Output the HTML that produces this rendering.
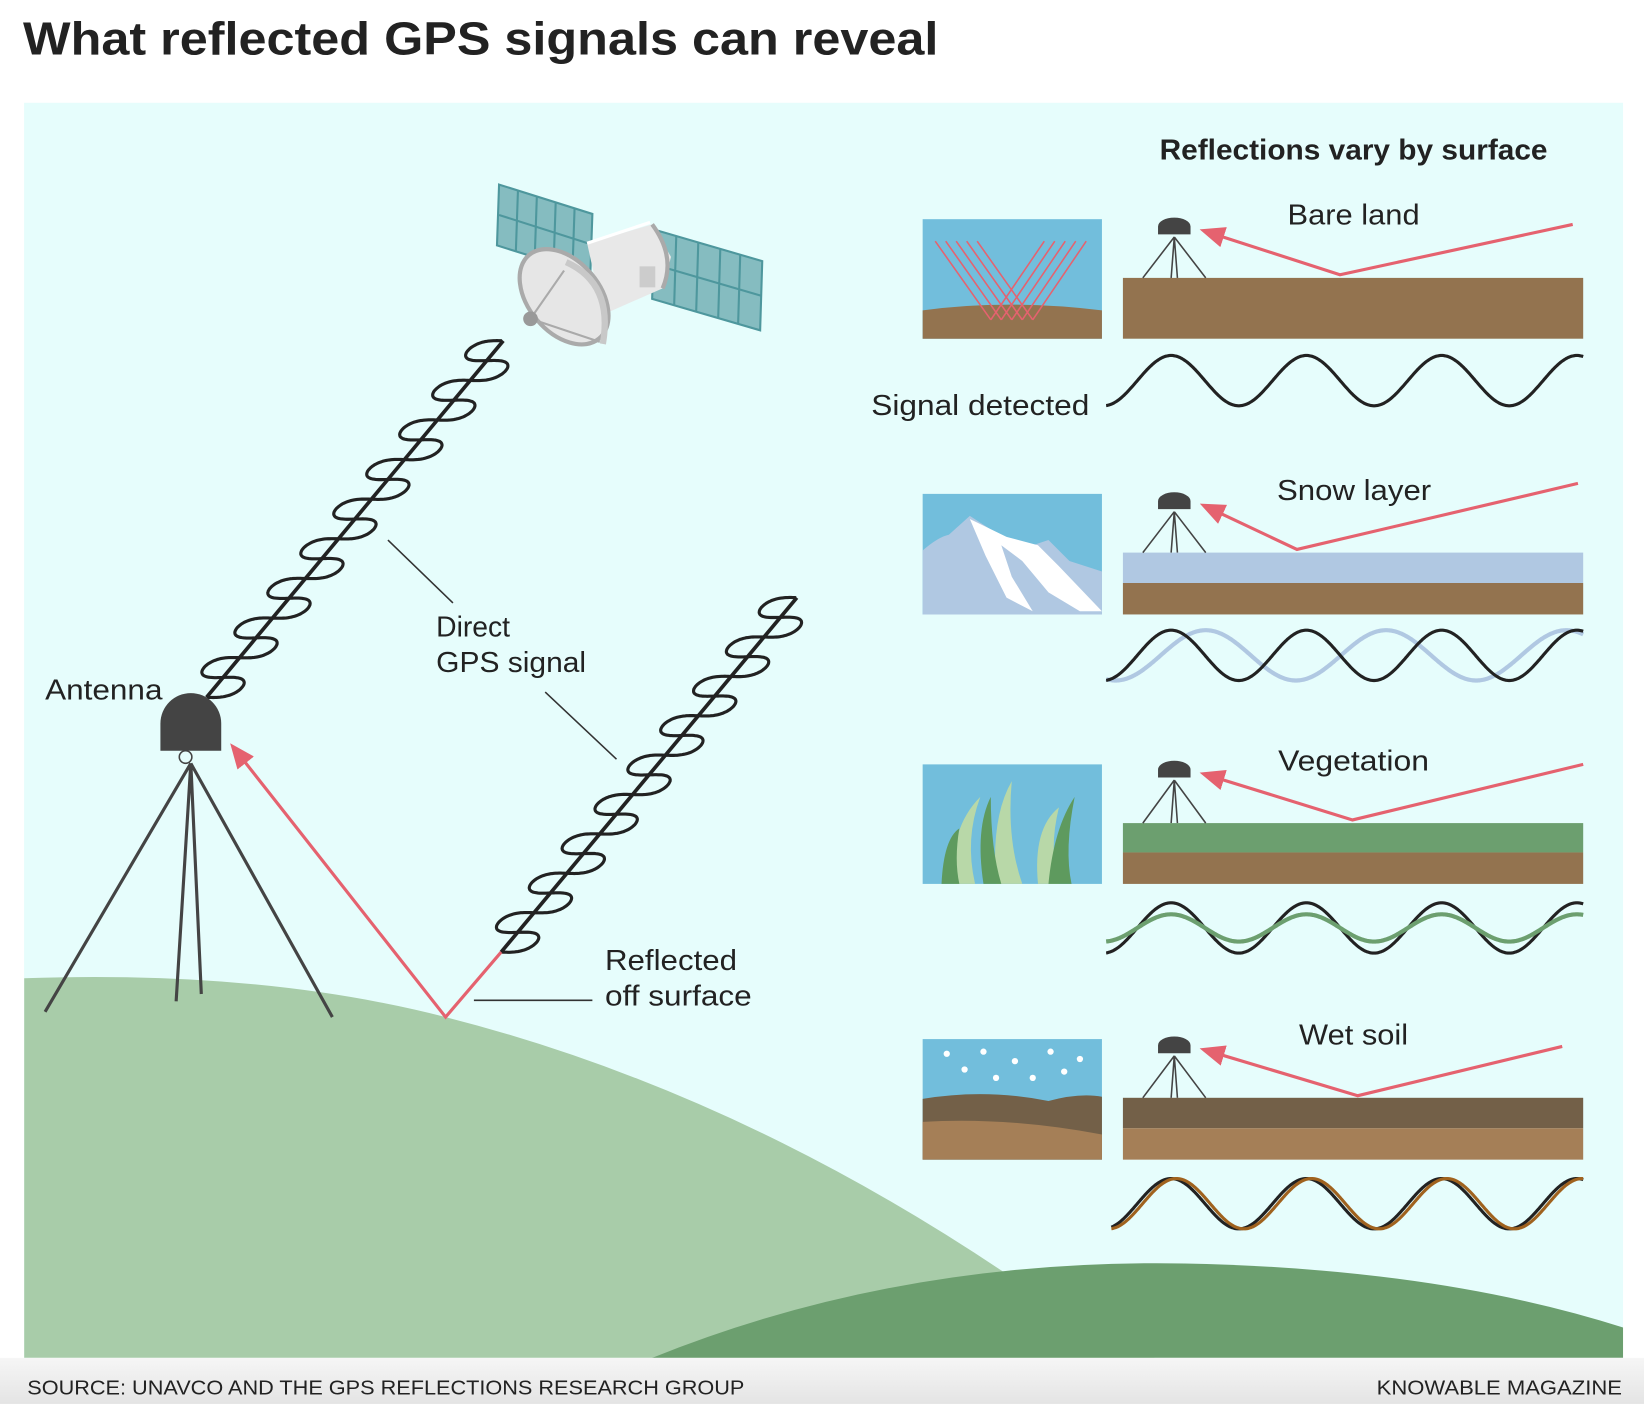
<!DOCTYPE html>
<html><head><meta charset="utf-8"><style>
html,body{margin:0;padding:0;background:#fff;}
svg{display:block;font-family:"Liberation Sans",sans-serif;}
</style></head><body>
<svg id="s" width="1644" height="1404" viewBox="0 0 1568 1339" xmlns="http://www.w3.org/2000/svg">
<defs>
<linearGradient id="ft" x1="0" y1="0" x2="0" y2="1"><stop offset="0" stop-color="#f6f6f6"/><stop offset="1" stop-color="#e4e4e4"/></linearGradient>
<marker id="ar2" markerWidth="24" markerHeight="20" refX="20" refY="10" orient="auto" markerUnits="userSpaceOnUse" viewBox="0 0 24 20"><path d="M0,0 L24,10 L0,20z" fill="#e5626f"/></marker>
<clipPath id="pc"><rect x="23" y="98" width="1525" height="1197"/></clipPath>
</defs>
<rect width="1568" height="1339" fill="#fff"/>
<text x="22" y="52" font-size="44" font-weight="bold" fill="#222" textLength="873" lengthAdjust="spacingAndGlyphs">What reflected GPS signals can reveal</text>
<rect x="23" y="98" width="1525" height="1197" fill="#e6fdfc"/>
<g clip-path="url(#pc)">
<path d="M23,933 Q250,925 425,970 Q700,1040 960,1215 L1110,1300 L23,1300z" fill="#a8cca9"/>
<path d="M610,1300 Q850,1200 1130,1205 Q1380,1210 1560,1270 L1560,1300z" fill="#6c9f6f"/>
</g>
<rect x="0" y="1295" width="1568" height="44" fill="url(#ft)"/>
<text x="26" y="1330" font-size="19" fill="#222" textLength="684" lengthAdjust="spacingAndGlyphs">SOURCE: UNAVCO AND THE GPS REFLECTIONS RESEARCH GROUP</text>
<text x="1313" y="1330" font-size="19" fill="#222" textLength="234" lengthAdjust="spacingAndGlyphs">KNOWABLE MAGAZINE</text>

<g>
<polygon points="476,176 565,204 563,262 474,234" fill="#85bcc0" stroke="#4e979d" stroke-width="2"/>
<path d="M476,205 L564,233 M494,182 L492,240 M512,188 L510,246 M530,193 L528,252 M548,199 L546,257" stroke="#4e979d" stroke-width="2"/>
<polygon points="624,219 727,249 725,315 622,285" fill="#85bcc0" stroke="#4e979d" stroke-width="2"/>
<path d="M623,252 L726,282 M645,225 L643,291 M666,231 L664,297 M687,237 L685,303 M706,243 L704,309" stroke="#4e979d" stroke-width="2"/>
<polygon points="560,232 622,214 640,245 632,275 575,300" fill="#e8e8e8"/>
<path d="M560,232 L620,212" stroke="#fff" stroke-width="3"/>
<path d="M622,214 Q645,245 632,275" fill="none" stroke="#aaa" stroke-width="4"/>
<rect x="610" y="254" width="15" height="20" fill="#ccc"/>
<ellipse cx="538" cy="283" rx="34" ry="52" transform="rotate(-40 538 283)" fill="#e6e6e6" stroke="#aaa" stroke-width="4"/>
<path d="M540,250 Q585,270 575,328" fill="none" stroke="#c8c8c8" stroke-width="6"/>
<path d="M506,304 L538,258 M506,304 L572,326" stroke="#aaa" stroke-width="2"/>
<circle cx="506" cy="304" r="7" fill="#999"/>
</g>

<g id="helix" fill="none" stroke="#222" stroke-width="3"></g>

<path d="M153,716 L153,690 A29,29 0 0 1 211,690 L211,716z" fill="#444"/>
<path d="M182,728 L43,965 M182,728 L168,955 M182,728 L192,948 M182,728 L317,970" stroke="#444" stroke-width="3"/>
<circle cx="177" cy="722" r="6" fill="none" stroke="#444" stroke-width="1.5"/>
<path d="M478,908 L425,970 L222,712" fill="none" stroke="#e5626f" stroke-width="3" marker-end="url(#ar2)"/>
<path d="M370,515 L432,575 M520,660 L588,724 M452,954 L565,954" stroke="#333" stroke-width="1.5"/>
<g font-size="27" fill="#222">
<text x="43" y="667" textLength="112" lengthAdjust="spacingAndGlyphs">Antenna</text>
<text x="416" y="607">Direct</text>
<text x="416" y="641" textLength="143" lengthAdjust="spacingAndGlyphs">GPS signal</text>
<text x="577" y="925" textLength="126" lengthAdjust="spacingAndGlyphs">Reflected</text>
<text x="577" y="959" textLength="140" lengthAdjust="spacingAndGlyphs">off surface</text>
<text x="1106" y="152" font-weight="bold" textLength="370" lengthAdjust="spacingAndGlyphs">Reflections vary by surface</text>
<text x="1228" y="214" textLength="126" lengthAdjust="spacingAndGlyphs">Bare land</text>
<text x="831" y="396" textLength="208" lengthAdjust="spacingAndGlyphs">Signal detected</text>
<text x="1218" y="477" textLength="147" lengthAdjust="spacingAndGlyphs">Snow layer</text>
<text x="1219" y="735" textLength="144" lengthAdjust="spacingAndGlyphs">Vegetation</text>
<text x="1239" y="996" textLength="104" lengthAdjust="spacingAndGlyphs">Wet soil</text>
</g>

<rect x="880" y="209" width="171" height="114" fill="#72bedc"/>
<path d="M880,296 Q960,285 1051,296 L1051,323 L880,323z" fill="#93734f"/>
<g stroke="#e5626f" stroke-width="1.5" fill="none">
<path d="M892,230 L945,305 M902,230 L955,305 M912,230 L965,305 M922,230 L975,305 M932,230 L985,305"/>
<path d="M945,305 L996,230 M955,305 L1006,230 M965,305 L1016,230 M975,305 L1026,230 M985,305 L1036,230"/>
</g>
<rect x="880" y="471" width="171" height="115" fill="#72bedc"/>
<path d="M880,525 Q895,512 905,510 L925,492 L945,505 L960,515 L985,520 L1000,515 L1020,535 L1051,545 L1051,586 L880,586z" fill="#b0c8e2"/>
<path d="M925,495 L940,530 L960,570 L985,583 L965,550 L955,520 L975,535 L1000,565 L1030,583 L1051,583 L1010,540 L990,520 L960,512z" fill="#fff"/>
<rect x="880" y="729" width="171" height="114" fill="#72bedc"/>
<g fill="#b8d8a8"><path d="M910,843 Q905,790 935,760 Q920,800 930,843z"/><path d="M950,843 Q945,780 965,745 Q960,800 975,843z"/><path d="M990,843 Q985,790 1010,770 Q1000,810 1010,843z"/></g>
<g fill="#5e9a5e"><path d="M898,843 Q900,800 915,790 Q910,820 915,843z"/><path d="M938,843 Q930,790 945,760 Q945,810 955,843z"/><path d="M1000,843 Q1005,790 1025,760 Q1015,810 1022,843z"/></g>
<rect x="880" y="991" width="171" height="115" fill="#72bedc"/>
<path d="M880,1048 Q940,1038 1000,1050 Q1030,1042 1051,1046 L1051,1106 L880,1106z" fill="#736048"/>
<path d="M880,1070 Q960,1065 1051,1082 L1051,1106 L880,1106z" fill="#a57f57"/>
<g fill="#fff"><circle cx="903" cy="1005" r="3"/><circle cx="920" cy="1020" r="3"/><circle cx="938" cy="1003" r="3"/><circle cx="950" cy="1028" r="3"/><circle cx="968" cy="1012" r="3"/><circle cx="985" cy="1028" r="3"/><circle cx="1002" cy="1003" r="3"/><circle cx="1015" cy="1022" r="3"/><circle cx="1030" cy="1010" r="3"/></g>

<rect x="1071" y="265" width="439" height="58" fill="#93734f"/>
<rect x="1071" y="527" width="439" height="29" fill="#b0c8e2"/><rect x="1071" y="556" width="439" height="30" fill="#93734f"/>
<rect x="1071" y="785" width="439" height="28" fill="#6c9f6f"/><rect x="1071" y="813" width="439" height="30" fill="#93734f"/>
<rect x="1071" y="1047" width="439" height="29" fill="#736048"/><rect x="1071" y="1076" width="439" height="30" fill="#a57f57"/>

<g id="small"></g>
<g id="waves" fill="none" stroke-width="3"></g>
</svg>
<script>
var NS="http://www.w3.org/2000/svg";
function P(d,st,sw,par,extra){var p=document.createElementNS(NS,"path");p.setAttribute("d",d);p.setAttribute("fill","none");p.setAttribute("stroke",st);p.setAttribute("stroke-width",sw);if(extra)for(var k in extra)p.setAttribute(k,extra[k]);document.getElementById(par).appendChild(p);}
function helix(x0,y0,x1,y1,n){var dx=x1-x0,dy=y1-y0,L=Math.hypot(dx,dy),ux=dx/L,uy=dy/L;var per=L/n,k=2*Math.PI/per,A=26,r=4.5;var d="";
for(var s=0;s<=L;s+=0.5){var sp=s-r*Math.sin(2*k*s);var x=x0+ux*sp+A*Math.sin(k*s),y=y0+uy*sp;d+=(s==0?"M":"L")+x.toFixed(1)+","+y.toFixed(1);}
P("M"+x0+","+y0+"L"+x1+","+y1,"#222",3.5,"helix");P(d,"#222",3,"helix");}
helix(197,665,480,325,9);
helix(478,908,760,570,9);
function wave(c,xs,xe,pk,col,sw,amp,per){amp=amp||24;per=per||129;var d="";for(var x=xs;x<=xe;x+=1){var y=c-amp*Math.cos(2*Math.PI*(x-pk)/per);d+=(x==xs?"M":"L")+x+","+y.toFixed(1);}P(d,col,sw,"waves");}
wave(363,1055,1510,1117,"#222",3);
wave(625,1055,1510,1150,"#b0c8e2",4,24,172);wave(625,1055,1510,1117,"#222",3);
wave(885,1055,1510,1117,"#222",3);wave(885,1055,1510,1117,"#6c9f6f",4,13);
wave(1148,1060,1510,1117,"#222",3);wave(1148,1060,1510,1122,"#a0621e",3);
var rows=[[208,265,1278,262,1500,214],[470,527,1237,524,1505,461],[726,785,1290,782,1510,729],[989,1047,1295,1045,1490,998]];
rows.forEach(function(r){var t=r[0],g=r[1],x=1120;
P("M1105,"+(t+15)+"L1105,"+(t+8)+"A15,8 0 0 1 1135,"+(t+8)+"L1135,"+(t+15)+"z","#444",1,"small",{fill:"#444"});
var h=t+18;P("M"+x+","+h+"L1090,"+g+"M"+x+","+h+"L1117,"+g+"M"+x+","+h+"L1123,"+g+"M"+x+","+h+"L1150,"+g,"#444",1.5,"small");
P("M"+r[4]+","+r[5]+"L"+r[2]+","+r[3]+"L1148,"+(t+12),"#e5626f",3,"small",{"marker-end":"url(#ar2)"});});
</script>
</body></html>
